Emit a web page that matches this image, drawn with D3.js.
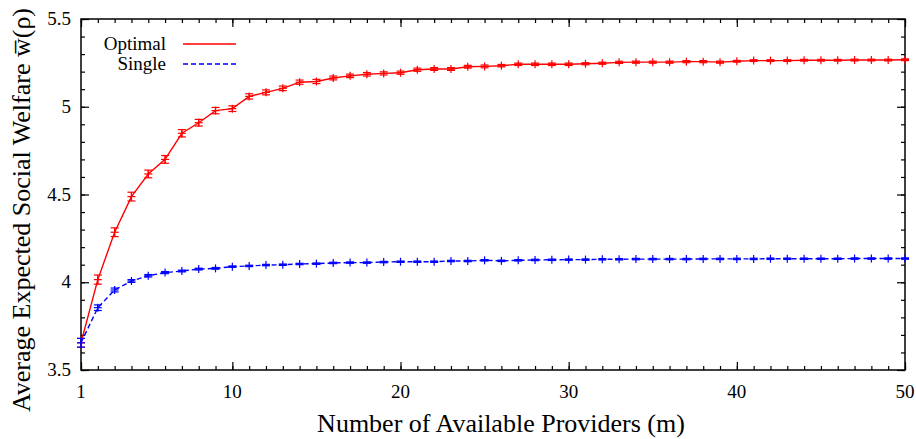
<!DOCTYPE html>
<html>
<head>
<meta charset="utf-8">
<script src="https://cdn.jsdelivr.net/npm/d3@7"></script>
<style>
  body { margin: 0; background: #fff; }
</style>
</head>
<body>
<svg id="chart" width="916" height="439"></svg>
<script>
// number of providers m = 1..50
const providers = d3.range(1, 51);

// Optimal series, mean and half error bar
const optimalValues = [
  3.655, 4.015, 4.285, 4.488, 4.617, 4.700, 4.849, 4.909, 4.978, 4.989,
  5.059, 5.082, 5.105, 5.140, 5.144, 5.164, 5.176, 5.185, 5.190, 5.194,
  5.211, 5.215, 5.215, 5.228, 5.230, 5.234, 5.242, 5.242, 5.242, 5.242,
  5.245, 5.248, 5.253, 5.254, 5.254, 5.254, 5.257, 5.257, 5.254, 5.259,
  5.263, 5.263, 5.263, 5.265, 5.265, 5.265, 5.266, 5.266, 5.266, 5.268
];
const optimalErrors = [
  0.025, 0.026, 0.025, 0.025, 0.022, 0.022, 0.021, 0.019, 0.018, 0.016,
  0.015, 0.014, 0.013, 0.012, 0.012, 0.011, 0.010, 0.010, 0.009, 0.009,
  0.009, 0.008, 0.008, 0.008, 0.008, 0.007, 0.007, 0.007, 0.007, 0.007,
  0.006, 0.006, 0.006, 0.006, 0.006, 0.006, 0.006, 0.006, 0.006, 0.005,
  0.005, 0.005, 0.005, 0.005, 0.005, 0.005, 0.005, 0.005, 0.005, 0.005
];

// Single series, mean and half error bar
const singleValues = [
  3.655, 3.855, 3.956, 4.007, 4.037, 4.055, 4.064, 4.075, 4.079, 4.089,
  4.093, 4.098, 4.100, 4.104, 4.106, 4.110, 4.112, 4.112, 4.115, 4.117,
  4.117, 4.117, 4.121, 4.121, 4.125, 4.122, 4.125, 4.127, 4.128, 4.129,
  4.129, 4.131, 4.131, 4.132, 4.132, 4.132, 4.132, 4.133, 4.133, 4.133,
  4.133, 4.134, 4.134, 4.134, 4.134, 4.134, 4.135, 4.135, 4.135, 4.135
];
const singleErrors = [
  0.025, 0.016, 0.011, 0.008, 0.007, 0.006, 0.005, 0.005, 0.005, 0.004,
  0.004, 0.004, 0.004, 0.004, 0.004, 0.004, 0.004, 0.004, 0.004, 0.004,
  0.004, 0.004, 0.004, 0.004, 0.004, 0.004, 0.004, 0.004, 0.004, 0.004,
  0.004, 0.004, 0.004, 0.004, 0.004, 0.004, 0.004, 0.004, 0.004, 0.004,
  0.004, 0.004, 0.004, 0.004, 0.004, 0.004, 0.004, 0.004, 0.004, 0.004
];

const seriesNames = ["Optimal", "Single"];
const xTickLabels = [1, 10, 20, 30, 40, 50];
const yTickLabels = [3.5, 4, 4.5, 5, 5.5];

const series = [
  { name: seriesNames[0], values: optimalValues, errors: optimalErrors, color: "#ff0000", dash: null },
  { name: seriesNames[1], values: singleValues, errors: singleErrors, color: "#0000ff", dash: "5,3" }
];

const FONT = "'Liberation Serif', 'Times New Roman', Times, serif";

const margin = { top: 19, right: 11, bottom: 69, left: 81 };
const W = 916, H = 439;
const width = W - margin.left - margin.right;
const height = H - margin.top - margin.bottom;

const svg = d3.select("#chart");
const g = svg.append("g").attr("transform", `translate(${margin.left},${margin.top})`);

const x = d3.scaleLinear().domain([1, 50]).range([0, width]);
const y = d3.scaleLinear().domain([3.5, 5.5]).range([height, 0]);

// ticks (inward, on all four sides)
const minorX = d3.range(1, 51);
const minorY = d3.range(35, 56).map(d => d / 10);

function drawAxis(axis, transform) {
  const a = g.append("g").attr("transform", transform).call(axis);
  a.select(".domain").remove();
  a.selectAll("line").attr("stroke", "#000").attr("stroke-width", 1.2);
  a.selectAll("text").remove();
  return a;
}

drawAxis(d3.axisBottom(x).tickValues(minorX).tickSize(-4), `translate(0,${height})`);
drawAxis(d3.axisBottom(x).tickValues(xTickLabels).tickSize(-8), `translate(0,${height})`);
drawAxis(d3.axisTop(x).tickValues(minorX).tickSize(-4), "translate(0,0)");
drawAxis(d3.axisTop(x).tickValues(xTickLabels).tickSize(-8), "translate(0,0)");
drawAxis(d3.axisLeft(y).tickValues(minorY).tickSize(-4), "translate(0,0)");
drawAxis(d3.axisLeft(y).tickValues(yTickLabels).tickSize(-8), "translate(0,0)");
drawAxis(d3.axisRight(y).tickValues(minorY).tickSize(-4), `translate(${width},0)`);
drawAxis(d3.axisRight(y).tickValues(yTickLabels).tickSize(-8), `translate(${width},0)`);

// tick labels
g.append("g").selectAll("text")
  .data(xTickLabels).enter().append("text")
  .attr("x", d => x(d))
  .attr("y", height + 28)
  .attr("text-anchor", "middle")
  .attr("font-family", FONT)
  .attr("font-size", 19)
  .text(d => d);

g.append("g").selectAll("text")
  .data(yTickLabels).enter().append("text")
  .attr("x", -10)
  .attr("y", d => y(d) + 6)
  .attr("text-anchor", "end")
  .attr("font-family", FONT)
  .attr("font-size", 19)
  .text(d => d);

// frame
g.append("rect")
  .attr("width", width).attr("height", height)
  .attr("fill", "none").attr("stroke", "#000").attr("stroke-width", 1.5);

// series
const line = d3.line().x((d, i) => x(providers[i])).y(d => y(d));

series.forEach(s => {
  const sg = g.append("g");
  sg.append("path")
    .datum(s.values)
    .attr("d", line)
    .attr("fill", "none")
    .attr("stroke", s.color)
    .attr("stroke-width", 1.4)
    .attr("stroke-dasharray", s.dash);

  const pts = sg.selectAll("g.pt")
    .data(s.values.map((v, i) => ({ m: providers[i], v: v, e: s.errors[i] })))
    .enter().append("g").attr("class", "pt")
    .attr("stroke", s.color).attr("stroke-width", 1.2).attr("fill", "none");

  // error bar
  pts.append("line")
    .attr("x1", d => x(d.m)).attr("x2", d => x(d.m))
    .attr("y1", d => y(d.v - d.e)).attr("y2", d => y(d.v + d.e));
  pts.append("line")
    .attr("x1", d => x(d.m) - 4).attr("x2", d => x(d.m) + 4)
    .attr("y1", d => y(d.v - d.e)).attr("y2", d => y(d.v - d.e));
  pts.append("line")
    .attr("x1", d => x(d.m) - 4).attr("x2", d => x(d.m) + 4)
    .attr("y1", d => y(d.v + d.e)).attr("y2", d => y(d.v + d.e));
  // plus marker
  pts.append("line")
    .attr("x1", d => x(d.m) - 4).attr("x2", d => x(d.m) + 4)
    .attr("y1", d => y(d.v)).attr("y2", d => y(d.v));
  pts.append("line")
    .attr("x1", d => x(d.m)).attr("x2", d => x(d.m))
    .attr("y1", d => y(d.v) - 4).attr("y2", d => y(d.v) + 4);
});

// legend
const legend = g.append("g").attr("transform", "translate(85,25)");
series.forEach((s, i) => {
  const ly = i * 20;
  legend.append("text")
    .attr("x", 0).attr("y", ly + 6)
    .attr("text-anchor", "end")
    .attr("font-family", FONT)
    .attr("font-size", 19)
    .text(s.name);
  legend.append("line")
    .attr("x1", 17).attr("x2", 70)
    .attr("y1", ly).attr("y2", ly)
    .attr("stroke", s.color).attr("stroke-width", 1.4)
    .attr("stroke-dasharray", s.dash);
});

// axis titles
svg.append("text")
  .attr("x", 501).attr("y", 432)
  .attr("text-anchor", "middle")
  .attr("font-family", FONT)
  .attr("font-size", 26)
  .text("Number of Available Providers (m)");

svg.append("text")
  .attr("transform", "translate(30,210) rotate(-90)")
  .attr("text-anchor", "middle")
  .attr("font-family", FONT)
  .attr("font-size", 26)
  .text("Average Expected Social Welfare w\u0305(\u03c1)");
</script>
</body>
</html>
